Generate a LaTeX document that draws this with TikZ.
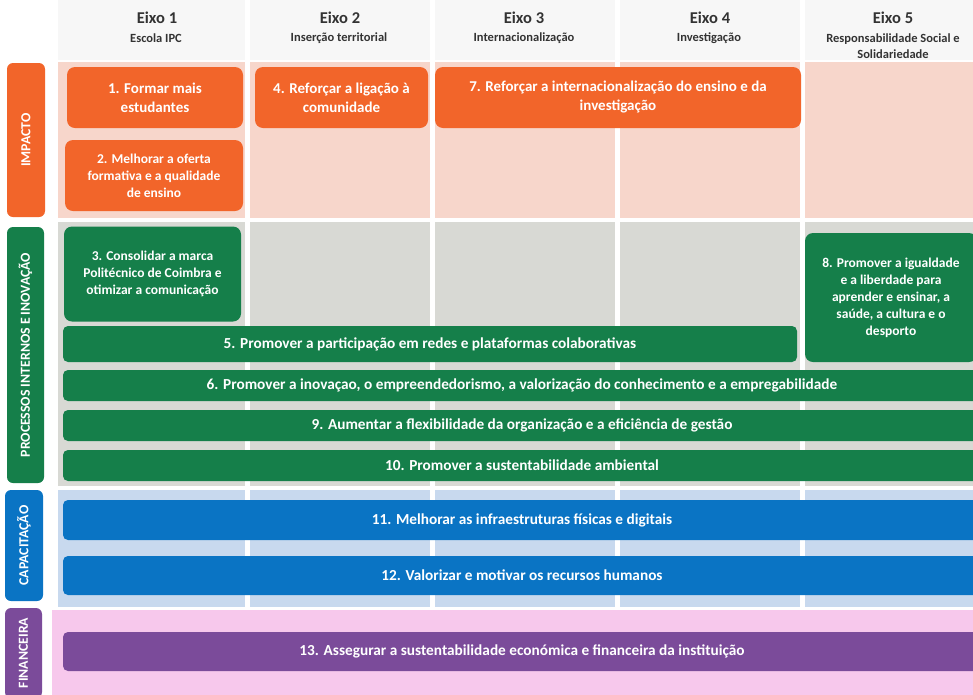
\documentclass[tikz,border=0pt]{standalone}
\usepackage{fontspec}
\setmainfont{Carlito}
\usetikzlibrary{positioning}

\definecolor{impcol}{HTML}{F2652A}
\definecolor{proccol}{HTML}{157F4A}
\definecolor{capcol}{HTML}{0A74C4}
\definecolor{fincol}{HTML}{7B4B9A}
\definecolor{impbg}{HTML}{F7D6CB}
\definecolor{procbg}{HTML}{D8D9D4}
\definecolor{capbg}{HTML}{C8D9EE}
\definecolor{finbg}{HTML}{F7C8EC}
\definecolor{hdrbg}{HTML}{F7F7F7}
\definecolor{hdrtext}{HTML}{333333}

\begin{document}
\begin{tikzpicture}[x=1pt,y=-1pt,
    axis/.style={text=hdrtext,font=\bfseries\fontsize{16.5}{19}\selectfont},
    axissub/.style={text=hdrtext,align=center,font=\bfseries\fontsize{12.5}{16}\selectfont},
    side/.style={rotate=90,rounded corners=6pt,text=white,inner sep=0pt,
        font=\bfseries\fontsize{13.8}{15}\selectfont},
    goal/.style={rounded corners=8pt,text=white,align=center,inner sep=0pt,
        font=\bfseries\fontsize{15}{19}\selectfont},
    goalsmall/.style={goal,font=\bfseries\fontsize{13.5}{17}\selectfont},
    bar/.style={rounded corners=5pt,text=white,inner sep=0pt,
        font=\bfseries\fontsize{15.3}{17}\selectfont}]
    \useasboundingbox (0,0) rectangle (973,694);
    \clip (0,0) rectangle (973,694);
    \fill[white] (0,0) rectangle (973,694);

    \foreach \xa/\xb in {58/245,250/430,435/615,620/800,805/985} {
        \fill[hdrbg] (\xa,0) rectangle (\xb,60);
        \fill[impbg] (\xa,62) rectangle (\xb,218);
        \fill[procbg] (\xa,222) rectangle (\xb,486);
        \fill[capbg] (\xa,490) rectangle (\xb,607);
    }
    \fill[finbg] (52,610) rectangle (985,700);

    \node[axis] (eixo1) at (157,18) {Eixo 1};
    \node[axis] (eixo2) at (340,18) {Eixo 2};
    \node[axis] (eixo3) at (524,18) {Eixo 3};
    \node[axis] (eixo4) at (710,18) {Eixo 4};
    \node[axis] (eixo5) at (893,18) {Eixo 5};

    \node[axissub] (sub1) at (156,38) {Escola IPC};
    \node[axissub] (sub2) at (339,38) {Inserção territorial};
    \node[axissub] (sub3) at (524,38) {Internacionalização};
    \node[axissub] (sub4) at (709,38) {Investigação};
    \node[axissub] (sub5) at (893,46) {Responsabilidade Social e\\Solidariedade};

    \node[side,fill=impcol,minimum width=154,minimum height=38] (impacto) at (26,140) {IMPACTO};
    \node[side,fill=proccol,minimum width=256,minimum height=37] (processos) at (25.5,355) {PROCESSOS INTERNOS E INOVAÇÃO};
    \node[side,fill=capcol,minimum width=111,minimum height=38] (capacitacao) at (24,545.5) {CAPACITAÇÃO};
    \node[side,fill=fincol,minimum width=90,minimum height=37] (financeira) at (23.5,653) {FINANCEIRA};

    \node[goal,fill=impcol,minimum width=176,minimum height=61] (obj1) at (155,97.5) {1. Formar mais\\estudantes};
    \node[goal,fill=impcol,minimum width=173,minimum height=61] (obj4) at (341.5,97.5) {4. Reforçar a ligação à\\comunidade};
    \node[goal,fill=impcol,minimum width=366,minimum height=61] (obj7) at (618,97.5) {7. Reforçar a internacionalização do ensino e da\\investigação};
    \node[goalsmall,fill=impcol,minimum width=178,minimum height=71] (obj2) at (154,175.5) {2. Melhorar a oferta\\formativa e a qualidade\\de ensino};

    \node[goalsmall,fill=proccol,minimum width=177,minimum height=95] (obj3) at (152.5,274) {3. Consolidar a marca\\Politécnico de Coimbra e\\otimizar a comunicação};
    \node[goalsmall,fill=proccol,minimum width=172,minimum height=129] (obj8) at (891,297.5) {8. Promover a igualdade\\e a liberdade para\\aprender e ensinar, a\\saúde, a cultura e o\\desporto};
    \node[bar,fill=proccol,minimum width=734,minimum height=36] (obj5) at (430,344) {5. Promover a participação em redes e plataformas colaborativas};
    \node[bar,fill=proccol,minimum width=918,minimum height=31] (obj6) at (522,385.5) {6. Promover a inovaçao, o empreendedorismo, a valorização do conhecimento e a empregabilidade};
    \node[bar,fill=proccol,minimum width=918,minimum height=31] (obj9) at (522,425.5) {9. Aumentar a flexibilidade da organização e a eficiência de gestão};
    \node[bar,fill=proccol,minimum width=918,minimum height=31] (obj10) at (522,465.5) {10. Promover a sustentabilidade ambiental};

    \node[bar,fill=capcol,minimum width=918,minimum height=40] (obj11) at (522,520) {11. Melhorar as infraestruturas físicas e digitais};
    \node[bar,fill=capcol,minimum width=918,minimum height=39] (obj12) at (522,575.5) {12. Valorizar e motivar os recursos humanos};

    \node[bar,fill=fincol,minimum width=918,minimum height=39] (obj13) at (522,651.5) {13. Assegurar a sustentabilidade económica e financeira da instituição};
\end{tikzpicture}
\end{document}
